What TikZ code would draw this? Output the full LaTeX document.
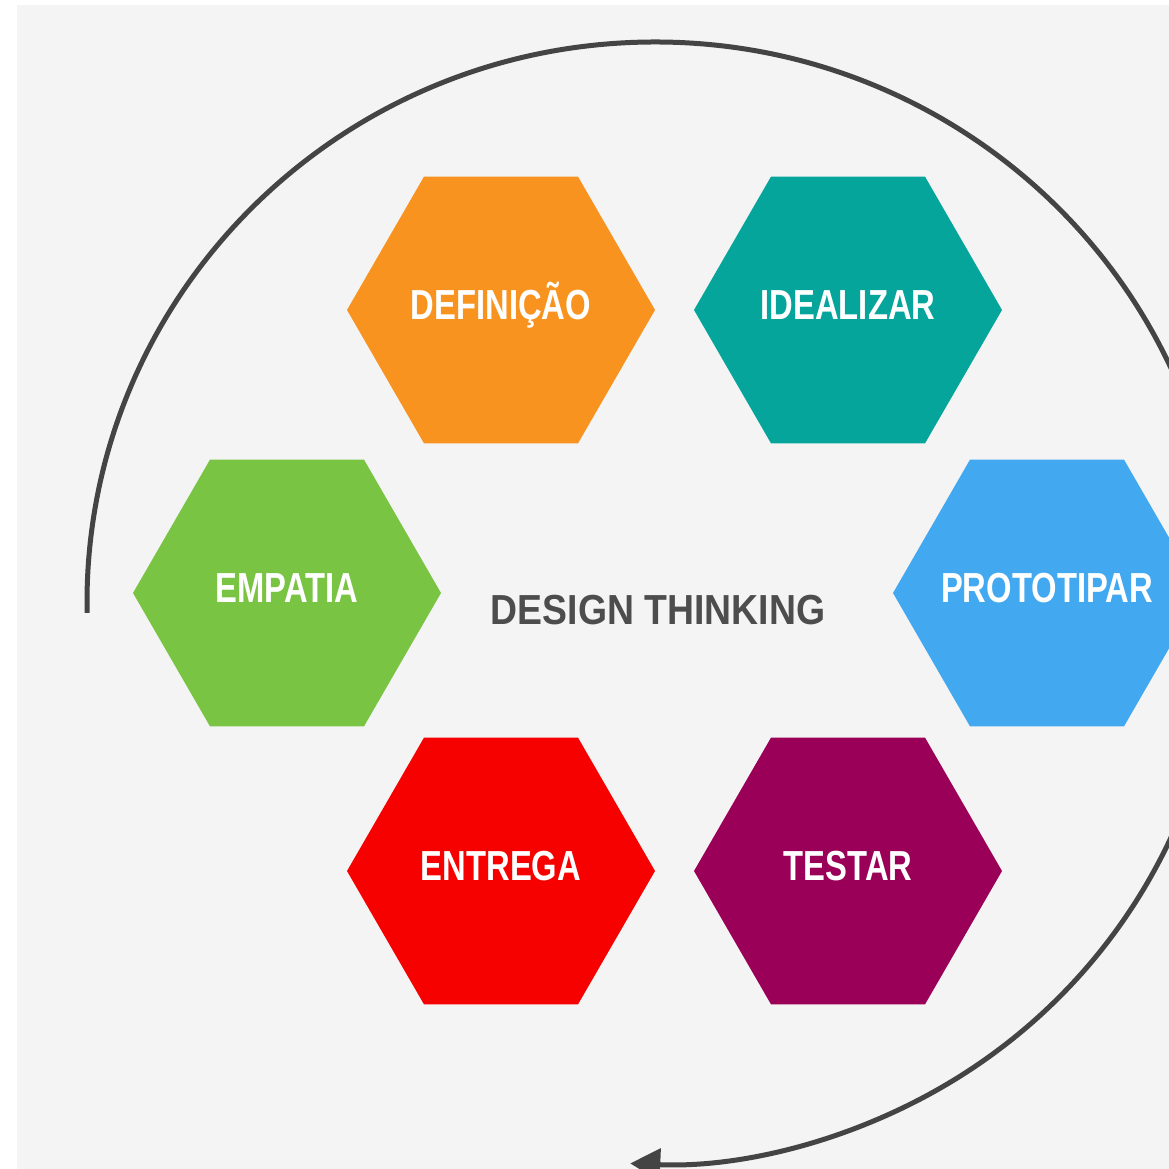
\documentclass[tikz,border=0pt]{standalone}
\usepackage{fontspec}
\usetikzlibrary{shapes.geometric,arrows.meta}
\newfontfamily\hexfont{Liberation Sans}[FakeStretch=0.78]
\newfontfamily\titlefont{Liberation Sans}[FakeStretch=0.89]

\definecolor{bgpaper}{HTML}{F4F4F4}
\definecolor{cycleline}{HTML}{444444}
\definecolor{titlegray}{HTML}{4D4D4D}
\definecolor{cdef}{HTML}{F8931F}
\definecolor{cide}{HTML}{05A59B}
\definecolor{cemp}{HTML}{79C443}
\definecolor{cpro}{HTML}{42A8F0}
\definecolor{cent}{HTML}{F70000}
\definecolor{ctes}{HTML}{9A0058}

\begin{document}
\begin{tikzpicture}[x=1pt,y=1pt,
  hexa/.style={regular polygon, regular polygon sides=6,
    minimum size=308pt, inner sep=0pt, draw=none},
  hexlabel/.style={anchor=base, inner sep=0pt, text=white,
    font=\hexfont\bfseries\fontsize{42}{48}\selectfont},
  titlelabel/.style={anchor=base, inner sep=0pt, text=titlegray,
    font=\titlefont\bfseries\fontsize{42}{48}\selectfont},
  cycle/.style={draw=cycleline, line width=5pt,
    -{Triangle[length=30pt,width=32pt]}}]

  \useasboundingbox (0,0) rectangle (1169,1169);
  \clip (0,0) rectangle (1169,1169);

  % paper background
  \fill[bgpaper] (17,0) rectangle (1169,1164);

  % the six phases
  \node[hexa, fill=cdef] (def) at (501,859) {};
  \node[hexa, fill=cide] (ide) at (848,859) {};
  \node[hexa, fill=cemp] (emp) at (287,576) {};
  \node[hexa, fill=cpro] (pro) at (1047,576) {};
  \node[hexa, fill=cent] (ent) at (501,298) {};
  \node[hexa, fill=ctes] (tes) at (848,298) {};

  \node[hexlabel] (tdef) at ([yshift=-10pt]def.center) {DEFINIÇÃO};
  \node[hexlabel] (tide) at ([yshift=-10pt]ide.center) {IDEALIZAR};
  \node[hexlabel] (temp) at ([yshift=-10pt]emp.center) {EMPATIA};
  \node[hexlabel] (tpro) at ([yshift=-10pt]pro.center) {PROTOTIPAR};
  \node[hexlabel] (tent) at ([yshift=-10pt]ent.center) {ENTREGA};
  \node[hexlabel] (ttes) at ([yshift=-10pt]tes.center) {TESTAR};

  % centre title
  \node[titlelabel] (title) at (658,544) {DESIGN THINKING};

  % iteration loop around the phases
  \coordinate (loopstart) at ({655+568*cos(181)},{566+561*sin(181)});
  \draw[cycle] (loopstart) arc[start angle=181, end angle=-92.5,
    x radius=568, y radius=561];
\end{tikzpicture}
\end{document}
